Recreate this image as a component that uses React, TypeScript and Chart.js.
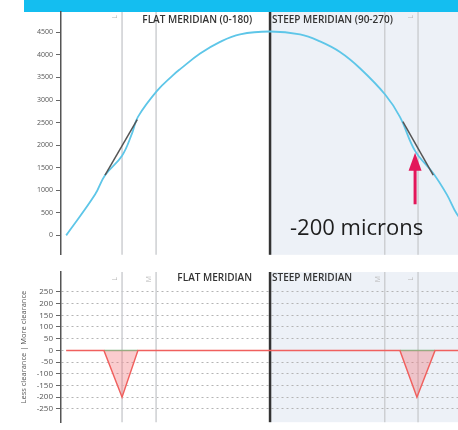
import React, { useEffect, useRef } from "react";
import { Chart, registerables } from "chart.js";

Chart.register(...registerables);

// ---- data (x in mm across the lens, y in microns) ----
const corneaX = [-5.51, -4.73, -4.46, -4.0, -3.73, -3.57, -3.05, -2.62, -2.43, -1.89, -1.35, -0.81, 0, 0.81, 1.35, 1.89, 2.43, 3.11, 3.51, 3.92, 4.41, 4.78, 5.05, 5.51];
const corneaY = [0, 904, 1335, 1766, 2261, 2627, 3208, 3553, 3685, 4030, 4290, 4457, 4520, 4455, 4300, 4065, 3705, 3122, 2627, 1873, 1378, 904, 474, 0];

const lensLeftX = [-4.46, -3.59];
const lensLeftY = [1335, 2565];
const lensRightX = [3.59, 4.41];
const lensRightY = [2519, 1335];

const clearanceX = [-5.51, -4.49, -4.0, -3.57, 3.51, 3.97, 4.46, 5.6];
const clearanceY = [0, 0, -200, 0, 0, -200, 0, 0];

const contactX = [-4.49, -3.57, 0, 3.51, 4.46];
const contactY = [0, 0, null, 0, 0];

const meridianMarks = [-4.0, -3.08, 3.1, 4.0];
const markLabels = ["L", "M", "M", "L"];
const topTicks = [0, 500, 1000, 1500, 2000, 2500, 3000, 3500, 4000, 4500];
const bottomTicks = [-250, -200, -150, -100, -50, 0, 50, 100, 150, 200, 250];

const arrowX = 3.92;
const arrowTipY = 1830;
const arrowBaseY = 689;

const FONT = '"Open Sans", "Noto Sans", sans-serif';

const pts = (xs: number[], ys: (number | null)[]) => xs.map((x, i) => ({ x, y: ys[i] }));

function decoPlugin(kind: "top" | "bottom") {
  return {
    id: "deco" + kind,
    beforeDraw(chart: any) {
      const { ctx, chartArea, scales } = chart;
      const x0 = scales.x.getPixelForValue(0);
      ctx.save();
      ctx.fillStyle = "#EDF1F7";
      ctx.fillRect(x0, chartArea.top, chartArea.right - x0, chartArea.bottom - chartArea.top);
      ctx.restore();
    },
    beforeDatasetsDraw(chart: any) {
      const { ctx, chartArea, scales } = chart;
      ctx.save();
      ctx.strokeStyle = "#CDCFD2";
      ctx.lineWidth = 1.5;
      meridianMarks.forEach((m) => {
        const px = scales.x.getPixelForValue(m);
        ctx.beginPath();
        ctx.moveTo(px, chartArea.top);
        ctx.lineTo(px, chartArea.bottom);
        ctx.stroke();
      });
      const x0 = scales.x.getPixelForValue(0);
      ctx.strokeStyle = "#333";
      ctx.lineWidth = 2.5;
      ctx.beginPath();
      ctx.moveTo(x0, chartArea.top);
      ctx.lineTo(x0, chartArea.bottom);
      ctx.stroke();
      // small rotated L / M marks
      ctx.fillStyle = "#B8B8B8";
      ctx.font = "7px " + FONT;
      ctx.textAlign = "center";
      ctx.textBaseline = "middle";
      meridianMarks.forEach((m, i) => {
        if (kind === "top" && markLabels[i] === "M") return;
        const px = scales.x.getPixelForValue(m) - 7;
        const py = chartArea.top + (kind === "top" ? 5 : 7);
        ctx.save();
        ctx.translate(px, py);
        ctx.rotate(-Math.PI / 2);
        ctx.fillText(markLabels[i], 0, 0);
        ctx.restore();
      });
      ctx.restore();
    },
    afterDatasetsDraw(chart: any) {
      const { ctx, chartArea, scales } = chart;
      const x0 = scales.x.getPixelForValue(0);
      ctx.save();
      ctx.fillStyle = "#333";
      ctx.font = "600 10px " + FONT;
      ctx.textBaseline = "middle";
      const ty = chartArea.top + (kind === "top" ? 8 : 6);
      ctx.textAlign = "right";
      ctx.fillText(kind === "top" ? "FLAT MERIDIAN (0-180)" : "FLAT MERIDIAN", x0 - 18, ty);
      ctx.textAlign = "left";
      ctx.fillText(kind === "top" ? "STEEP MERIDIAN (90-270)" : "STEEP MERIDIAN", x0 + 2, ty);
      if (kind === "top") {
        const ax = scales.x.getPixelForValue(arrowX);
        const tip = scales.y.getPixelForValue(arrowTipY);
        const base = scales.y.getPixelForValue(arrowBaseY);
        ctx.strokeStyle = "#E3175A";
        ctx.fillStyle = "#E3175A";
        ctx.lineWidth = 3;
        ctx.beginPath();
        ctx.moveTo(ax, base);
        ctx.lineTo(ax, tip + 14);
        ctx.stroke();
        ctx.beginPath();
        ctx.moveTo(ax, tip);
        ctx.lineTo(ax - 6.5, tip + 18);
        ctx.lineTo(ax + 6.5, tip + 18);
        ctx.closePath();
        ctx.fill();
        ctx.fillStyle = "#1E1E1E";
        ctx.font = "22px " + FONT;
        ctx.textAlign = "left";
        ctx.textBaseline = "alphabetic";
        ctx.fillText("-200 microns", x0 + 20, scales.y.getPixelForValue(0));
      }
      ctx.restore();
    },
  };
}

const xScale = {
  type: "linear" as const,
  min: -5.65,
  max: 5.08,
  display: false,
};

const plainLabel = (v: any) => String(v);

export default function App() {
  const topRef = useRef<HTMLCanvasElement>(null);
  const botRef = useRef<HTMLCanvasElement>(null);

  useEffect(() => {
    const top = new Chart(topRef.current!, {
      type: "scatter",
      data: {
        datasets: [
          {
            data: pts(lensLeftX, lensLeftY),
            showLine: true,
            borderColor: "#555",
            borderWidth: 1.5,
            pointRadius: 0,
          },
          {
            data: pts(lensRightX, lensRightY),
            showLine: true,
            borderColor: "#555",
            borderWidth: 1.5,
            pointRadius: 0,
          },
          {
            data: pts(corneaX, corneaY),
            showLine: true,
            borderColor: "#5EC6E8",
            borderWidth: 1.8,
            pointRadius: 0,
            tension: 0.4,
          },
        ],
      },
      options: {
        responsive: false,
        animation: false,
        events: [],
        layout: { padding: { top: 12, left: 0, right: 0, bottom: 0 } },
        plugins: { legend: { display: false }, tooltip: { enabled: false } },
        scales: {
          x: xScale,
          y: {
            type: "linear",
            min: -431,
            max: 4952,
            afterBuildTicks: (ax: any) => {
              ax.ticks = topTicks.map((v) => ({ value: v }));
            },
            afterFit: (ax: any) => {
              ax.width = 61;
            },
            grid: { drawOnChartArea: false, drawTicks: true, tickLength: 5, tickColor: "#666", tickWidth: 1 },
            border: { display: true, color: "#555", width: 1.5 },
            ticks: { font: { size: 7, family: FONT }, color: "#555", padding: 3, autoSkip: false, callback: plainLabel },
          },
        },
      },
      plugins: [decoPlugin("top")],
    } as any);

    const bottom = new Chart(botRef.current!, {
      type: "scatter",
      data: {
        datasets: [
          {
            data: pts(clearanceX, clearanceY),
            showLine: true,
            borderColor: "#F0605E",
            borderWidth: 1.5,
            pointRadius: 0,
            fill: "origin",
            backgroundColor: "rgba(240, 110, 115, 0.35)",
          },
          {
            data: pts(contactX, contactY),
            showLine: true,
            spanGaps: false,
            borderColor: "#86B886",
            borderWidth: 1.5,
            pointRadius: 0,
          },
        ],
      },
      options: {
        responsive: false,
        animation: false,
        events: [],
        layout: { padding: { top: 10, left: 0, right: 0, bottom: 0 } },
        plugins: { legend: { display: false }, tooltip: { enabled: false } },
        scales: {
          x: xScale,
          y: {
            type: "linear",
            min: -307,
            max: 335,
            afterBuildTicks: (ax: any) => {
              ax.ticks = bottomTicks.map((v) => ({ value: v }));
            },
            afterFit: (ax: any) => {
              ax.width = 61;
            },
            title: {
              display: true,
              text: "Less clearance | More clearance",
              font: { size: 7.5, family: FONT },
              color: "#555",
              padding: { top: 19.5, bottom: 0 },
            },
            grid: {
              drawOnChartArea: true,
              drawTicks: true,
              tickLength: 5,
              color: "#B4B4B4",
              tickColor: "#666",
              tickWidth: 1,
              tickBorderDash: [],
              lineWidth: 1,
            },
            border: { display: true, color: "#555", width: 1.5, dash: [2, 3] },
            ticks: { font: { size: 8, family: FONT }, color: "#555", padding: 3, autoSkip: false, callback: plainLabel },
          },
        },
      },
      plugins: [decoPlugin("bottom")],
    } as any);

    return () => {
      top.destroy();
      bottom.destroy();
    };
  }, []);

  return (
    <div style={{ position: "fixed", left: 0, top: 0, width: 458, height: 430, background: "#fff", overflow: "hidden" }}>
      <div style={{ position: "absolute", left: 24, top: 0, width: 434, height: 12, background: "#14BEF0" }} />
      <canvas ref={topRef} width={458} height={262} style={{ position: "absolute", left: 0, top: 0 }} />
      <canvas ref={botRef} width={458} height={168} style={{ position: "absolute", left: 0, top: 262 }} />
    </div>
  );
}
